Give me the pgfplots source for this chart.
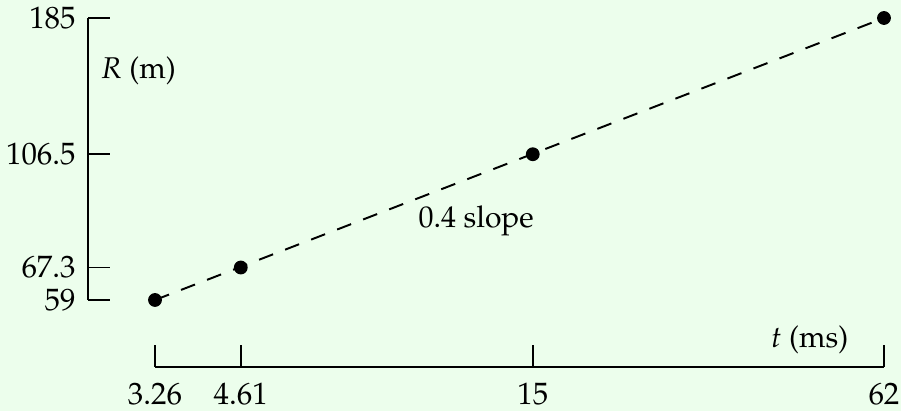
\documentclass[border=0pt]{standalone}
\usepackage[T1]{fontenc}
\usepackage{mathpazo}
\usepackage{pgfplots}
\pgfplotsset{compat=1.18}
\usetikzlibrary{backgrounds}
\definecolor{bgc}{RGB}{236,254,236}
\begin{document}
\begin{tikzpicture}
\begin{axis}[
  at={(0pt,0pt)}, anchor=south west,
  scale only axis, width=243pt, height=94pt,
  xmode=log, ymode=log,
  xmin=3.26, xmax=62, ymin=59, ymax=185,
  enlargelimits=false, clip=false,
  axis x line*=bottom, axis y line*=left,
  axis x line shift=22.33pt, axis y line shift=22.33pt,
  axis line style={line width=0.65pt},
  tick style={line width=0.65pt, black},
  tick align=inside, major tick length=7.3pt,
  xminorticks=false, yminorticks=false,
  xtick={3.26,4.61,15,62}, xticklabels={3.26,4.61,15,62},
  ytick={59,67.3,106.5,185}, yticklabels={59,67.3,106.5,185},
  tick label style={font=\fontsize{10.3}{12}\selectfont},
  xticklabel style={yshift=-1.8pt},
  yticklabel style={xshift=-0.6pt},
  log ticks with fixed point,
]
\addplot[black, line width=0.65pt, dash pattern=on 5pt off 4.3pt] coordinates {(3.26,59) (62,185)};
\addplot[only marks, mark=*, mark size=2.1pt, black] coordinates {(3.26,59) (4.61,67.3) (15,106.5) (62,185)};
\end{axis}
\node[anchor=base west, inner sep=0pt] at (-18.33pt,74pt) {$R$ (m)};
\node[anchor=base east, inner sep=0pt] at (231.33pt,-16pt) {$t$ (ms)};
\node[anchor=base west, inner sep=0pt] at (87.67pt,24.33pt) {0.4 slope};
\begin{scope}[on background layer]
\fill[bgc] (-51.67pt,-37pt) rectangle (248.67pt,100pt);
\end{scope}
\pgfresetboundingbox
\useasboundingbox (-51.67pt,-37pt) rectangle (248.67pt,100pt);
\end{tikzpicture}
\end{document}
